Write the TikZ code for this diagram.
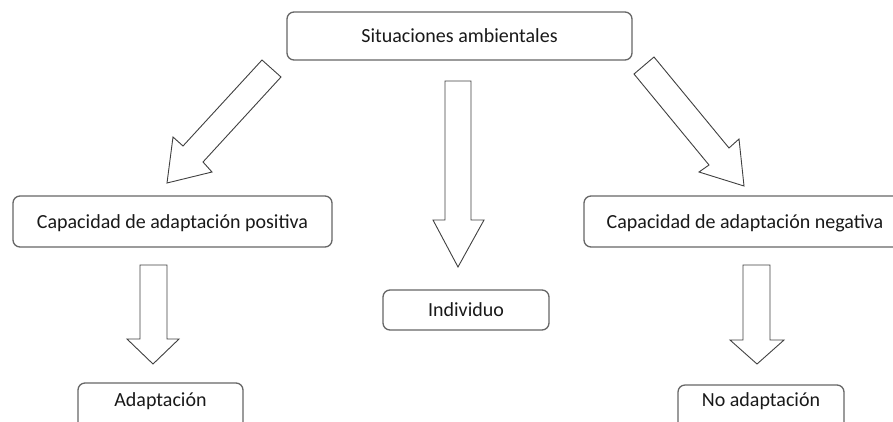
\documentclass[tikz,border=0pt]{standalone}
\usepackage{fontspec}
\setmainfont{Carlito}
\begin{document}
\begin{tikzpicture}[x=1pt,y=-1pt,
  box/.style={draw=black!60, line width=1.3pt, rounded corners=7pt, fill=white,
    inner sep=0pt, text height=13pt, text depth=0pt, text=black!90,
    font=\fontsize{20}{24}\selectfont},
  lowbox/.style={box, text height=0pt, text depth=30pt},
  blockarrow/.style={draw=black!75, line width=0.9pt, fill=white, line join=miter}]
\useasboundingbox (0,0) rectangle (893,421);
\clip (0,0) rectangle (893,421);
% boxes
\node[box, minimum width=345pt, minimum height=48pt] (sit) at (459.5,36) {Situaciones ambientales};
\node[box, minimum width=319pt, minimum height=51pt] (pos) at (172.5,221.5) {Capacidad de adaptación positiva};
\node[box, minimum width=322pt, minimum height=51pt] (neg) at (745,221.5) {Capacidad de adaptación negativa};
\node[box, minimum width=166pt, minimum height=40pt] (ind) at (466,310) {Individuo};
\node[lowbox, minimum width=165pt, minimum height=76pt] (ada) at (160.5,421) {Adaptación};
\node[lowbox, minimum width=166pt, minimum height=72pt] (noada) at (761,421) {No adaptación};
% block arrows
\draw[blockarrow] (262,60) -- (281,77) -- (203,162) -- (212,172) -- (167,183) -- (173,137) -- (183,146) -- cycle;
\draw[blockarrow] (654,57) -- (729,148) -- (739,139) -- (744,186) -- (699,172) -- (709,165) -- (634,74) -- cycle;
\draw[blockarrow] (445,81) -- (471,81) -- (471,220) -- (484,220) -- (458,267) -- (433,220) -- (445,220) -- cycle;
\draw[blockarrow] (140,265) -- (167,265) -- (167,339) -- (179,339) -- (153,364) -- (127,339) -- (140,339) -- cycle;
\draw[blockarrow] (743,265) -- (770,265) -- (770,340) -- (784,340) -- (757,364) -- (730,340) -- (743,340) -- cycle;
\end{tikzpicture}
\end{document}
